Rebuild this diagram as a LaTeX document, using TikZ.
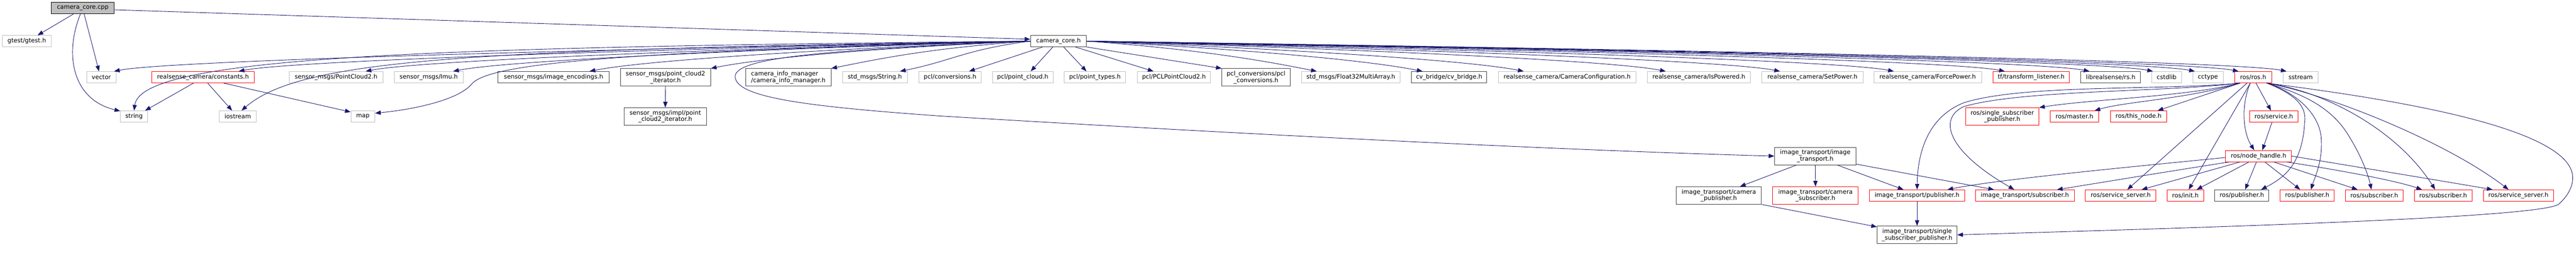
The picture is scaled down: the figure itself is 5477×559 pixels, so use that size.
\documentclass[tikz,border=0pt]{standalone}
\usepackage{fontspec}
\setmainfont{DejaVu Sans}
\usetikzlibrary{arrows.meta,calc}
\definecolor{edgec}{HTML}{191970}
\definecolor{nodocc}{HTML}{BFBFBF}
\definecolor{docc}{HTML}{404040}
\definecolor{truncc}{HTML}{FF0000}
\newcommand{\nodefont}{\fontsize{12.8pt}{14pt}\selectfont}
\tikzset{
  box/.style={rectangle, draw, line width=1pt, inner sep=0pt, minimum height=24pt, font=\nodefont, align=center, text=black},
  nodoc/.style={box, draw=nodocc},
  doc/.style={box, draw=docc},
  trunc/.style={box, draw=truncc},
  root/.style={box, draw=black, fill=nodocc},
  two/.style={minimum height=37pt},
  dep/.style={draw=edgec, line width=1pt, -{Triangle[length=12pt,width=9pt]}},
  fanL/.style={to path={.. controls ($(\tikztostart)!0.5!(\tikztotarget)+(0,-14)$) and ($(\tikztotarget)+(110,-22)$) .. (\tikztotarget)}},
  fanR/.style={to path={.. controls ($(\tikztostart)!0.5!(\tikztotarget)+(0,-14)$) and ($(\tikztotarget)+(-110,-22)$) .. (\tikztotarget)}}
}
\begin{document}
\begin{tikzpicture}[x=1pt,y=-1pt]
\useasboundingbox (0,0) rectangle (5477,559);
% row 0/1
\node[root, minimum width=134pt] (cpp) at (176,17.3) {camera\_core.cpp};
\node[nodoc, minimum width=104pt] (gtest) at (57,87.3) {gtest/gtest.h};
\node[doc, minimum width=119pt] (coreh) at (2250.5,87.2) {camera\_core.h};
% row 2
\node[nodoc, minimum width=63pt] (vector) at (215.5,163.7) {vector};
\node[trunc, minimum width=219pt] (constants) at (431.5,163.7) {realsense\_camera/constants.h};
\node[nodoc, minimum width=199pt] (pc2) at (714.5,163.7) {sensor\_msgs/PointCloud2.h};
\node[nodoc, minimum width=147pt] (imu) at (911.5,163.7) {sensor\_msgs/Imu.h};
\node[doc, minimum width=236pt] (imgenc) at (1177,163.7) {sensor\_msgs/image\_encodings.h};
\node[doc, two, minimum width=192pt] (pc2iter) at (1415,164) {sensor\_msgs/point\_cloud2\\\_iterator.h};
\node[doc, two, minimum width=182pt, align=left] (caminfo) at (1676,164) {camera\_info\_manager\\/camera\_info\_manager.h};
\node[nodoc, minimum width=138pt] (stringh) at (1860,163.7) {std\_msgs/String.h};
\node[nodoc, minimum width=132pt] (pclconv) at (2020,163.7) {pcl/conversions.h};
\node[nodoc, minimum width=129pt] (pclpc) at (2174.5,163.7) {pcl/point\_cloud.h};
\node[nodoc, minimum width=130pt] (pcltypes) at (2328,163.7) {pcl/point\_types.h};
\node[nodoc, minimum width=156pt] (pclpc2) at (2496,163.7) {pcl/PCLPointCloud2.h};
\node[doc, two, minimum width=145pt] (pclconvs) at (2670.5,164) {pcl\_conversions/pcl\\\_conversions.h};
\node[nodoc, minimum width=210pt] (f32) at (2872,163.7) {std\_msgs/Float32MultiArray.h};
\node[doc, minimum width=160pt] (cvb) at (3081,163.7) {cv\_bridge/cv\_bridge.h};
\node[nodoc, minimum width=292pt] (camcfg) at (3332,163.7) {realsense\_camera/CameraConfiguration.h};
\node[nodoc, minimum width=220pt] (ispow) at (3612,163.7) {realsense\_camera/IsPowered.h};
\node[nodoc, minimum width=215pt] (setpow) at (3853.5,163.7) {realsense\_camera/SetPower.h};
\node[nodoc, minimum width=229pt] (forcepow) at (4098.5,163.7) {realsense\_camera/ForcePower.h};
\node[trunc, minimum width=163pt] (tflist) at (4318.5,163.7) {tf/transform\_listener.h};
\node[doc, minimum width=127pt] (rs) at (4487.5,163.7) {librealsense/rs.h};
\node[nodoc, minimum width=63pt] (cstdlib) at (4606.5,163.7) {cstdlib};
\node[nodoc, minimum width=65pt] (cctype) at (4694.5,163.7) {cctype};
\node[trunc, minimum width=79pt] (rosros) at (4790.5,163.7) {ros/ros.h};
\node[nodoc, minimum width=75pt] (sstream) at (4891.5,163.7) {sstream};
% row 3
\node[nodoc, minimum width=58pt] (string) at (285,247) {string};
\node[nodoc, minimum width=79pt] (iostream) at (505.5,247) {iostream};
\node[nodoc, minimum width=51pt] (map) at (771.5,247) {map};
\node[doc, two, minimum width=175pt] (impl) at (1414.5,247) {sensor\_msgs/impl/point\\\_cloud2\_iterator.h};
\node[trunc, two, minimum width=156pt] (rssp) at (4257,247) {ros/single\_subscriber\\\_publisher.h};
\node[trunc, minimum width=103pt] (master) at (4410.5,247) {ros/master.h};
\node[trunc, minimum width=120pt] (thisnode) at (4547,247) {ros/this\_node.h};
\node[trunc, minimum width=103pt] (service) at (4834.5,247) {ros/service.h};
% row 4
\node[doc, two, minimum width=173pt] (itit) at (3859.5,331) {image\_transport/image\\\_transport.h};
\node[trunc, minimum width=140pt] (nh) at (4802,331) {ros/node\_handle.h};
% row 5
\node[doc, two, minimum width=181pt] (campub) at (3654.5,414.5) {image\_transport/camera\\\_publisher.h};
\node[trunc, two, minimum width=182pt] (camsub) at (3860,414.5) {image\_transport/camera\\\_subscriber.h};
\node[trunc, minimum width=202pt] (itpub) at (4076,414.5) {image\_transport/publisher.h};
\node[trunc, minimum width=210pt] (itsub) at (4305,414.5) {image\_transport/subscriber.h};
\node[trunc, minimum width=150pt] (rosss1) at (4509,414.5) {ros/service\_server.h};
\node[trunc, minimum width=77pt] (init) at (4646.5,414.5) {ros/init.h};
\node[doc, minimum width=115pt] (pubdark) at (4766.5,414.5) {ros/publisher.h};
\node[trunc, minimum width=115pt] (pubred) at (4905.5,414.5) {ros/publisher.h};
\node[trunc, minimum width=122pt] (sub1) at (5048,414.5) {ros/subscriber.h};
\node[trunc, minimum width=123pt] (sub2) at (5194.5,414.5) {ros/subscriber.h};
\node[trunc, minimum width=149pt] (ss2) at (5354.5,414.5) {ros/service\_server.h};
% row 6
\node[doc, two, minimum width=170pt] (itssp) at (4076,498) {image\_transport/single\\\_subscriber\_publisher.h};

% arrow tip coordinates for the fans
\coordinate (tvector) at ([xshift=-5pt]vector.north east);
\coordinate (tconst) at ([xshift=-34pt]constants.north east);
\coordinate (tpc2) at ([xshift=-37pt]pc2.north east);
\coordinate (timu) at ([xshift=-22pt]imu.north east);
\coordinate (timgenc) at ([xshift=-42pt]imgenc.north east);
\coordinate (tstringh) at ([xshift=-16pt]stringh.north east);
\coordinate (tf32) at ([xshift=33pt]f32.north west);
\coordinate (tcvb) at ([xshift=24pt]cvb.north west);
\coordinate (tcamcfg) at ([xshift=54pt]camcfg.north west);
\coordinate (tispow) at ([xshift=40pt]ispow.north west);
\coordinate (tsetpow) at ([xshift=39pt]setpow.north west);
\coordinate (tforcepow) at ([xshift=43pt]forcepow.north west);
\coordinate (ttf) at ([xshift=26pt]tflist.north west);
\coordinate (trs) at ([xshift=19pt]rs.north west);
\coordinate (tcstdlib) at ([xshift=3pt]cstdlib.north west);
\coordinate (tcctype) at ([xshift=5pt]cctype.north west);
\coordinate (tros) at ([xshift=9pt]rosros.north west);
\coordinate (tsstream) at ([xshift=8pt]sstream.north west);

% camera_core.cpp
\draw[dep] ([xshift=-20pt]cpp.south) -- ([xshift=23pt]gtest.north);
\draw[dep] ([xshift=3pt]cpp.south) -- ([xshift=-5pt]vector.north);
\draw[dep] ([xshift=-5pt]cpp.south) .. controls (138,110) and (150,210) .. ([yshift=-1pt]string.north west);
\draw[dep] ([yshift=-3.5pt]cpp.east) -- ([yshift=4pt]coreh.west);

% camera_core.h left fan
\draw[dep] (coreh.west) to[fanL] (tvector);
\draw[dep] (coreh.west) .. controls (900,100) and (300,120) .. (string.north);
\draw[dep] (coreh.west) to[fanL] (tconst);
\draw[dep] (coreh.west) .. controls (1000,105) and (640,125) .. ([xshift=8pt]iostream.north);
\draw[dep] (coreh.west) .. controls (1300,110) and (1040,135) .. (1003,178) .. controls (975,212) and (880,232) .. ([yshift=7pt]map.east);
\draw[dep] (coreh.west) to[fanL] (tpc2);
\draw[dep] (coreh.west) to[fanL] (timu);
\draw[dep] (coreh.west) to[fanL] (timgenc);
\draw[dep] (coreh.west) to[fanL] (pc2iter.north east);
\draw[dep] (coreh.west) to[fanL] (caminfo.north east);
\draw[dep] (coreh.west) to[fanL] (tstringh);
\draw[dep] ([xshift=26pt]coreh.south west) -- ([xshift=-26pt]pclconv.north east);
\draw[dep] ([xshift=48pt]coreh.south west) -- ([xshift=17pt]pclpc.north);
\draw[dep] ([xshift=71pt]coreh.south west) -- ([xshift=-18pt]pcltypes.north);
\draw[dep] ([xshift=96pt]coreh.south west) -- ([xshift=35pt]pclpc2.north west);
\draw[dep] (coreh.south east) -- (pclconvs.north west);
% camera_core.h right fan
\draw[dep] (coreh.east) to[fanR] (tf32);
\draw[dep] (coreh.east) to[fanR] (tcvb);
\draw[dep] (coreh.east) to[fanR] (tcamcfg);
\draw[dep] (coreh.east) to[fanR] (tispow);
\draw[dep] (coreh.east) to[fanR] (tsetpow);
\draw[dep] (coreh.east) to[fanR] (tforcepow);
\draw[dep] (coreh.east) to[fanR] (ttf);
\draw[dep] (coreh.east) to[fanR] (trs);
\draw[dep] (coreh.east) to[fanR] (tcstdlib);
\draw[dep] (coreh.east) to[fanR] (tcctype);
\draw[dep] (coreh.east) to[fanR] (tros);
\draw[dep] (coreh.east) to[fanR] (tsstream);
% camera_core.h -> image_transport.h (loop)
\draw[dep] (coreh.west) .. controls (1800,105) and (1560,118) .. (1563,163) .. controls (1566,205) and (1700,225) .. (2000,246) .. controls (2600,282) and (3300,318) .. (itit.west);

% constants
\draw[dep] ([xshift=90pt]constants.south west) -- ([xshift=-6pt]string.north east);
\draw[dep] ([xshift=120pt]constants.south west) -- ([xshift=-12pt]iostream.north);
\draw[dep] ([xshift=154pt]constants.south west) -- ([yshift=-3pt]map.north west);

% point cloud iterator
\draw[dep] (pc2iter.south) -- (impl.north);

% image_transport
\draw[dep] ([xshift=-40pt]itit.south) -- ([xshift=45pt]campub.north);
\draw[dep] (itit.south) -- (camsub.north);
\draw[dep] ([xshift=47pt]itit.south) -- ([xshift=-29pt]itpub.north);
\draw[dep] ([yshift=2pt]itit.south east) -- ([xshift=40pt]itsub.north west);
\draw[dep] (campub.south east) -- ([yshift=-2pt]itssp.north west);
\draw[dep] (itpub.south) -- (itssp.north);

% ros/ros.h
\draw[dep] ([xshift=12pt]rosros.south west) .. controls (4600,192) and (4300,178) .. (4175,218) .. controls (4095,250) and (4077,330) .. (itpub.north);
\draw[dep] ([xshift=12pt]rosros.south west) .. controls (4600,196) and (4300,190) .. (4175,226) .. controls (4120,252) and (4140,320) .. ([xshift=83pt]itsub.north west);
\draw[dep] ([xshift=12pt]rosros.south west) .. controls (4650,205) and (4450,210) .. (rssp.north east);
\draw[dep] ([xshift=12pt]rosros.south west) .. controls (4650,210) and (4520,215) .. ([xshift=-9pt]master.north east);
\draw[dep] ([xshift=12pt]rosros.south west) -- ([xshift=-20pt]thisnode.north east);
\draw[dep] ([xshift=27pt]rosros.south west) -- ([xshift=14pt]rosss1.north);
\draw[dep] ([xshift=34pt]rosros.south west) -- ([xshift=7pt]init.north);
\draw[dep] ([xshift=34pt]rosros.south west) .. controls (4765,220) and (4768,280) .. ([xshift=-9pt]nh.north);
\draw[dep] ([xshift=46pt]rosros.south west) -- ([xshift=-6pt]service.north);
\draw[dep] ([xshift=69pt]rosros.south west) .. controls (4880,200) and (4905,225) .. (4900,260) .. controls (4895,345) and (4860,375) .. ([xshift=-17pt]pubdark.north east);
\draw[dep] ([xshift=69pt]rosros.south west) .. controls (4880,195) and (4930,240) .. (4935,290) .. controls (4940,340) and (4920,380) .. ([xshift=8pt]pubred.north);
\draw[dep] ([xshift=69pt]rosros.south west) .. controls (4900,200) and (4960,230) .. (4995,290) .. controls (5020,330) and (5035,370) .. ([xshift=-6pt]sub1.north);
\draw[dep] ([xshift=69pt]rosros.south west) .. controls (4950,195) and (5100,280) .. ([xshift=-17pt]sub2.north);
\draw[dep] ([xshift=69pt]rosros.south west) .. controls (4950,200) and (5200,300) .. ([xshift=-21pt]ss2.north);
\draw[dep] ([xshift=69pt]rosros.south west) .. controls (5000,200) and (5470,260) .. (5470,377) .. controls (5470,400) and (5455,420) .. (5440,433) .. controls (5400,462) and (4700,482) .. (itssp.east);

% ros/service.h
\draw[dep] ([xshift=-4pt]service.south) -- ([xshift=8pt]nh.north);

% ros/node_handle.h
\draw[dep] ([yshift=-3pt]nh.west) .. controls (4550,352) and (4250,380) .. ([xshift=-37pt]itpub.north east);
\draw[dep] ([xshift=8pt]nh.south west) .. controls (4600,365) and (4450,390) .. ([xshift=-37pt]itsub.north east);
\draw[dep] ([xshift=31pt]nh.south west) -- ([xshift=-31pt]rosss1.north east);
\draw[dep] ([xshift=50pt]nh.south west) -- ([xshift=-15pt]init.north east);
\draw[dep] ([xshift=66pt]nh.south west) -- ([xshift=7pt]pubdark.north);
\draw[dep] ([xshift=84pt]nh.south west) -- ([xshift=-15pt]pubred.north);
\draw[dep] ([xshift=103pt]nh.south west) -- ([xshift=26pt]sub1.north west);
\draw[dep] ([xshift=-10pt]nh.south east) .. controls (5000,365) and (5100,385) .. ([xshift=17pt]sub2.north west);
\draw[dep] (nh.east) .. controls (5000,352) and (5200,385) .. ([xshift=20pt]ss2.north west);
\end{tikzpicture}
\end{document}
